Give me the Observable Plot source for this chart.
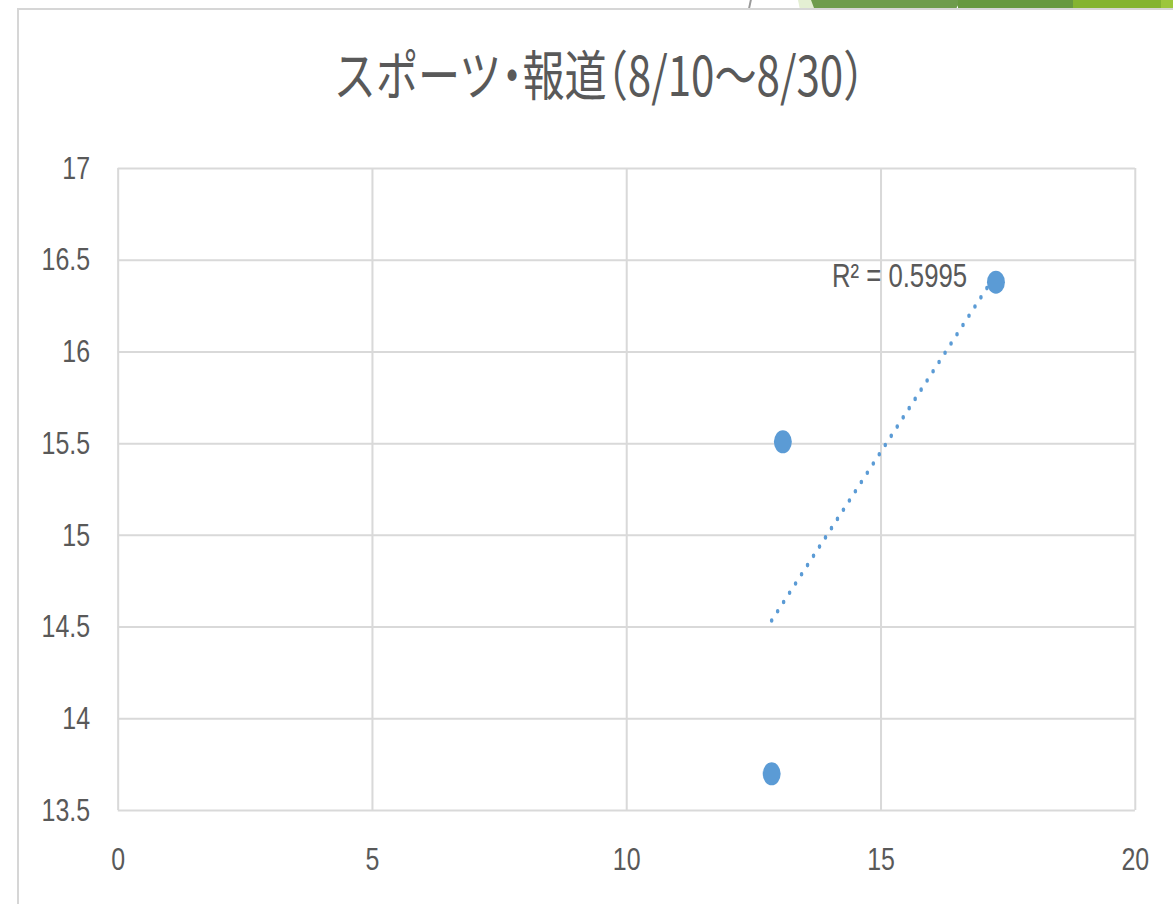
<!DOCTYPE html>
<html><head><meta charset="utf-8">
<script src="https://cdn.jsdelivr.net/npm/d3@7"></script>
<script src="https://cdn.jsdelivr.net/npm/@observablehq/plot@0.6"></script>
<style>
html,body{margin:0;padding:0;background:#fff;overflow:hidden}
#page{position:relative;width:1173px;height:904px;overflow:hidden;background:#fff}
#frame{position:absolute;left:17px;top:8px;width:2000px;height:2000px;border-left:2.5px solid #d6d6d6;border-top:2.5px solid #d6d6d6;box-sizing:border-box}
.deco{position:absolute;top:0;height:8px}
#layer{position:absolute;left:0;top:0;width:1504px;height:904px;transform:scaleX(0.78);transform-origin:0 0}
#title{position:absolute;left:0;width:1536px;top:46px;text-align:center;font-family:"Noto Sans CJK JP",sans-serif;font-size:54px;color:#595959;line-height:1;white-space:nowrap;font-feature-settings:"halt"}
#chart{position:absolute;left:0;top:0}
</style></head>
<body>
<div id="page">
  <div class="deco" style="left:749px;width:1.5px;background:#9a9a9a;transform:skewX(-12deg)"></div>
  <div class="deco" style="left:798px;width:16px;background:#e4efd3;clip-path:polygon(0 0,100% 0,100% 100%,10% 100%)"></div>
  <div class="deco" style="left:811px;width:150px;background:#6e9c4c;clip-path:polygon(0 0,100% 0,97% 100%,2% 100%)"></div>
  <div class="deco" style="left:958px;width:116px;background:#67993f"></div>
  <div class="deco" style="left:1073px;width:89px;background:#84b431"></div>
  <div class="deco" style="left:1161px;width:12px;background:#9cc63c"></div>
  <div id="frame"></div>
  <div id="layer">
    <div id="title">スポーツ・報道（8/10〜8/30）</div>
    <div id="chart"></div>
  </div>
</div>
<script>
// Data
const xValues = [12.85, 13.07, 17.26];
const yValues = [13.70, 15.51, 16.38];
const xTicks = [0, 5, 10, 15, 20];
const yTicks = [13.5, 14, 14.5, 15, 15.5, 16, 16.5, 17];
const r2Label = "R² = 0.5995";

const data = xValues.map((x, i) => ({x, y: yValues[i]}));
const blue = "#5b9bd5";
const textColor = "#595959";
const grid = "#d9d9d9";

const plot = Plot.plot({
  width: 1504,
  height: 904,
  marginLeft: 151,
  marginRight: 49,
  marginTop: 168,
  marginBottom: 94,
  style: {background: "transparent", fontFamily: "'Liberation Sans', sans-serif", fontSize: "32px", color: textColor, maxWidth: "none", overflow: "visible"},
  x: {domain: [0, 20]},
  y: {domain: [13.5, 17]},
  marks: [
    Plot.gridX(xTicks, {stroke: grid, strokeOpacity: 1, strokeWidth: 2.6}),
    Plot.gridY(yTicks, {stroke: grid, strokeOpacity: 1, strokeWidth: 2}),
    Plot.axisX(xTicks, {tickSize: 0, tickPadding: 37, tickFormat: d => String(d), label: null, fill: textColor, fontSize: 32}),
    Plot.axisY(yTicks, {tickSize: 0, tickPadding: 36, tickFormat: d => String(d), label: null, fill: textColor, fontSize: 32}),
    Plot.linearRegressionY(data, {x: "x", y: "y", ci: 0, stroke: blue, strokeWidth: 4.6, strokeDasharray: "0 12", strokeLinecap: "round"}),
    Plot.dot(data, {x: "x", y: "y", r: 11.5, fill: blue, stroke: null}),
    Plot.text(data.slice(-1), {x: "x", y: "y", text: () => r2Label, textAnchor: "end", dx: -37, dy: -6, fill: textColor, fontSize: 33})
  ]
});
document.getElementById("chart").appendChild(plot);
</script>
</body></html>
